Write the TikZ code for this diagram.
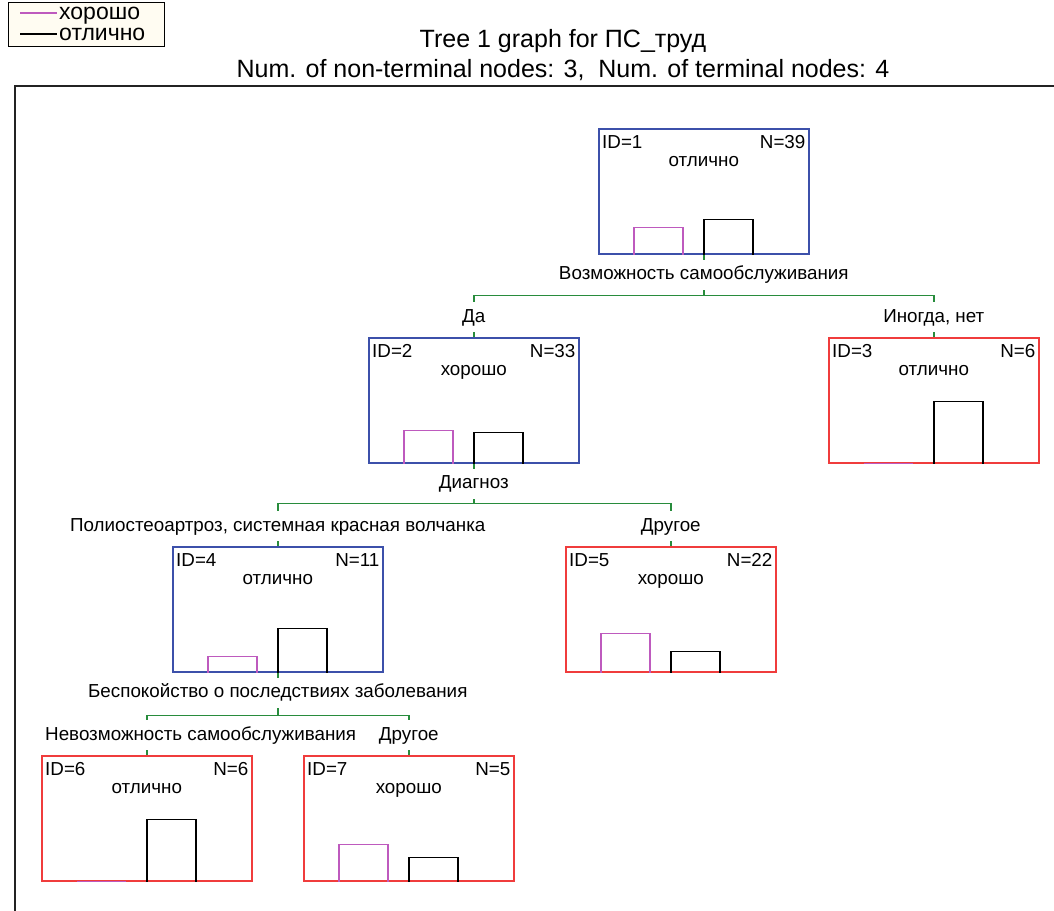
\documentclass[tikz,border=0pt]{standalone}
\usepackage{fontspec}
\setmainfont{Liberation Sans}
\definecolor{nblue}{RGB}{60,80,170}
\definecolor{nred}{RGB}{240,60,60}
\definecolor{cgreen}{RGB}{40,140,60}
\definecolor{cmag}{RGB}{190,90,190}
\definecolor{legfill}{RGB}{255,252,242}
\definecolor{framec}{RGB}{35,35,35}
\tikzset{
  tbox/.style={draw, line width=1.6pt, anchor=north west, minimum width=210pt, minimum height=125pt, inner sep=0pt},
  bar/.style={line width=1.5pt},
  conn/.style={draw=cgreen, line width=1.4pt},
  lab/.style={fill=white, inner xsep=3pt, inner ysep=6pt, text height=14pt, text depth=4pt, anchor=base},
  txt/.style={inner sep=0pt},
  bigtxt/.style={inner sep=0pt, font=\fontsize{25}{29}\selectfont},
  legtxt/.style={inner sep=0pt, font=\fontsize{23}{26}\selectfont},
}
\newcommand{\tnode}[9]{%
  \node[tbox, draw=#4] (#1) at (#2,#3) {};
  \node[txt, anchor=base west] (#1id) at ([xshift=4pt,yshift=-20pt]#1.north west) {ID=#5};
  \node[txt, anchor=base east] (#1n) at ([xshift=-4pt,yshift=-20pt]#1.north east) {N=#6};
  \node[txt, anchor=base] (#1c) at ([yshift=-38pt]#1.north) {#7};
  \draw[bar, cmag] ([xshift=-70pt]#1.south) -- ++(0,-#8) -- ++(49,0) -- ++(0,#8);
  \draw[bar, black] (#1.south) -- ++(0,-#9) -- ++(49,0) -- ++(0,#9);
}
\begin{document}
\begin{tikzpicture}[x=1pt,y=-1pt,font=\fontsize{18.8}{22}\selectfont]
\useasboundingbox (0,0) rectangle (1054,910);
% legend
\node[draw=black, fill=legfill, line width=1.2pt, anchor=north west, minimum width=156pt, minimum height=44pt, inner sep=0pt] (leg) at (8,2) {};
\coordinate (lg1a) at (20,13); \coordinate (lg1b) at (57,13);
\coordinate (lg2a) at (20,34); \coordinate (lg2b) at (57,34);
\draw[cmag, line width=1.3pt] (lg1a) -- (lg1b);
\draw[black, line width=1.3pt] (lg2a) -- (lg2b);
\node[legtxt, anchor=base west] (lgt1) at (59,19.5) {хорошо};
\node[legtxt, anchor=base west] (lgt2) at (59,40.5) {отлично};
% title
\node[bigtxt, anchor=base] (t1) at (563,47) {Tree 1 graph for ПС\_труд};
\node[bigtxt, anchor=base] (t2) at (563,77) {Num. of non-terminal nodes: 3,\ \ Num. of terminal nodes: 4};
% frame
\draw[framec, line width=2pt] (15,912) -- (15,86) -- (1056,86);
% tree nodes
\tnode{n1}{598}{128}{nblue}{1}{39}{отлично}{27}{35}
\tnode{n2}{368}{337}{nblue}{2}{33}{хорошо}{33}{31}
\tnode{n3}{828}{337}{nred}{3}{6}{отлично}{0}{62}
\tnode{n4}{172}{546}{nblue}{4}{11}{отлично}{16}{44}
\tnode{n5}{565}{546}{nred}{5}{22}{хорошо}{39}{21}
\tnode{n6}{41}{755}{nred}{6}{6}{отлично}{0}{62}
\tnode{n7}{303}{755}{nred}{7}{5}{хорошо}{37}{24}
% connectors
\draw[conn] (n1.south) -- ++(0,41) coordinate (j1) -| (n2.north);
\draw[conn] (j1) -| (n3.north);
\draw[conn] (n2.south) -- ++(0,40) coordinate (j2) -| (n4.north);
\draw[conn] (j2) -| (n5.north);
\draw[conn] (n4.south) -- ++(0,43) coordinate (j4) -| (n6.north);
\draw[conn] (j4) -| (n7.north);
% labels
\node[lab] (l1) at ([yshift=-25pt]n1.south) {Возможность самообслуживания};
\node[lab] (l2) at ([yshift=15pt]n2.north) {Да};
\node[lab] (l3) at ([yshift=15pt]n3.north) {Иногда, нет};
\node[lab] (l4) at ([yshift=-25pt]n2.south) {Диагноз};
\node[lab] (l5) at ([yshift=15pt]n4.north) {Полиостеоартроз, системная красная волчанка};
\node[lab] (l6) at ([yshift=15pt]n5.north) {Другое};
\node[lab] (l7) at ([yshift=-25pt]n4.south) {Беспокойство о последствиях заболевания};
\node[lab, anchor=base west] (l8) at (42,740) {Невозможность самообслуживания};
\node[lab] (l9) at ([yshift=15pt]n7.north) {Другое};
\end{tikzpicture}
\end{document}
